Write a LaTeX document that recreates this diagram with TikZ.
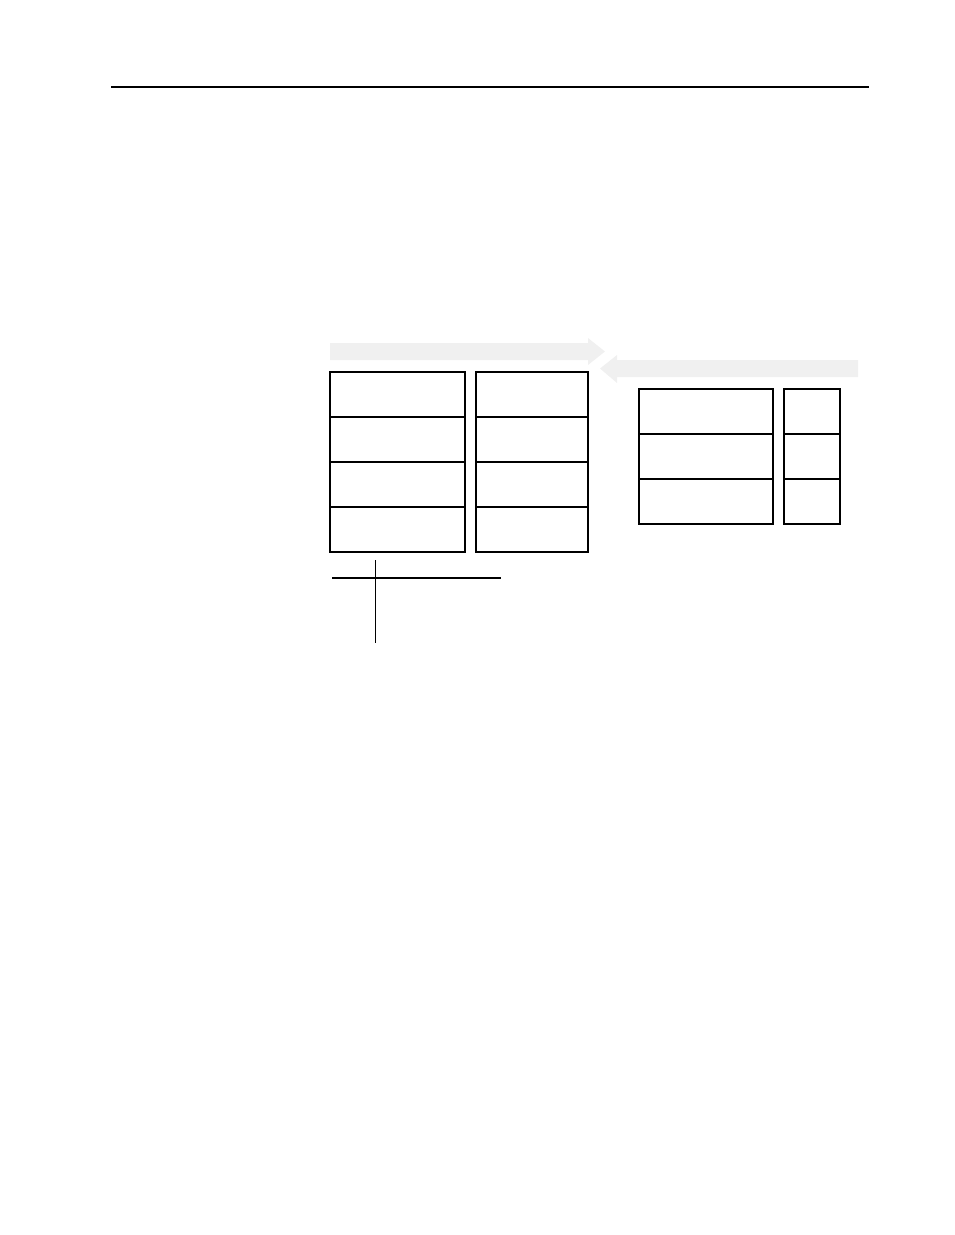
\documentclass[tikz,border=0pt]{standalone}
\usepackage{xcolor}
\usepackage{tikz}
\usetikzlibrary{shapes,arrows,positioning}

\definecolor{bandgray}{gray}{0.94}

\begin{document}
\begin{tikzpicture}[x=1pt, y=-1pt,
        cell/.style={draw, line width=1.2pt, inner sep=0pt, outer sep=0pt, minimum height=45pt},
        wide/.style={cell, minimum width=135pt},
        narrow/.style={cell, minimum width=112pt},
        slim/.style={cell, minimum width=56pt},
        band/.style={fill=bandgray}]

    \useasboundingbox (0,0) rectangle (954,1235);

    % top rule
    \coordinate (ruleL) at (111,87);
    \coordinate (ruleR) at (869,87);
    \draw[line width=1.5pt] (ruleL) -- (ruleR);

    % arrows
    \fill[band] (330,343) -- (588,343) -- (588,338) -- (605,351.5) -- (588,365)
        -- (588,360) -- (330,360) -- cycle;
    \fill[band] (858,360) -- (617,360) -- (617,355) -- (600,368.5) -- (617,383)
        -- (617,377) -- (858,377) -- cycle;

    % left stacks
    \node[wide, anchor=north west] (a1) at (330,372) {};
    \node[wide, below=0pt of a1] (a2) {};
    \node[wide, below=0pt of a2] (a3) {};
    \node[wide, below=0pt of a3] (a4) {};

    \node[narrow, anchor=north west] (b1) at (476,372) {};
    \node[narrow, below=0pt of b1] (b2) {};
    \node[narrow, below=0pt of b2] (b3) {};
    \node[narrow, below=0pt of b3] (b4) {};

    % right stacks
    \node[wide, minimum width=134pt, anchor=north west] (c1) at (639,389) {};
    \node[wide, minimum width=134pt, below=0pt of c1] (c2) {};
    \node[wide, minimum width=134pt, below=0pt of c2] (c3) {};

    \node[slim, anchor=north west] (d1) at (784,389) {};
    \node[slim, below=0pt of d1] (d2) {};
    \node[slim, below=0pt of d2] (d3) {};

    % cross
    \coordinate (hL) at (332,578);
    \coordinate (hR) at (501,578);
    \coordinate (vT) at (375,560);
    \coordinate (vB) at (375,643);
    \draw[line width=1.5pt] (hL) -- (hR);
    \draw[line width=1pt] (vT) -- (vB);
\end{tikzpicture}
\end{document}
